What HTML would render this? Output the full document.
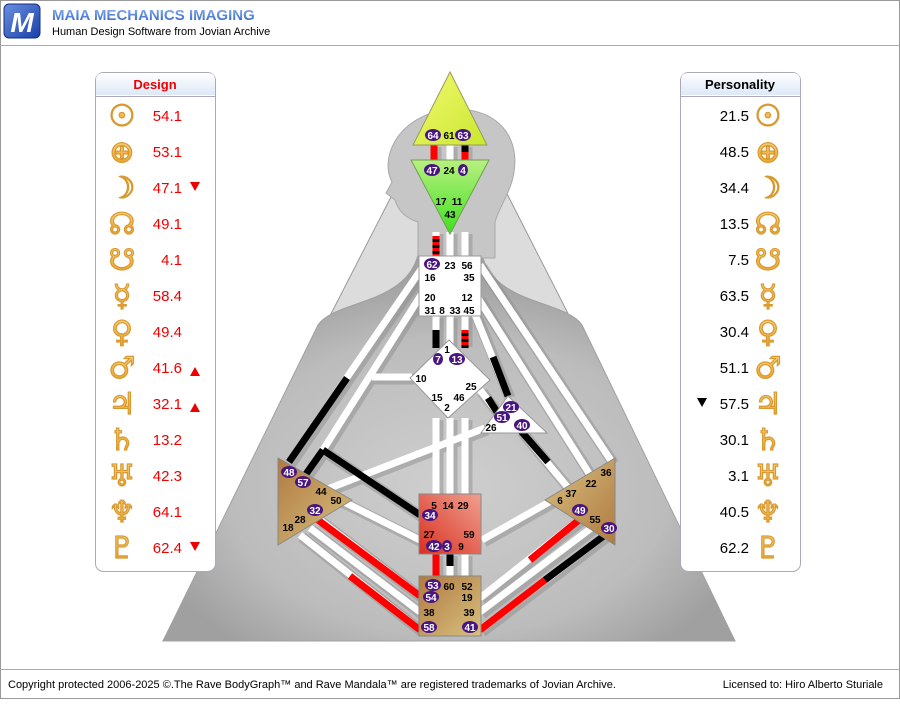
<!DOCTYPE html>
<html><head><meta charset="utf-8"><style>
body{margin:0;width:900px;height:699px;overflow:hidden;background:#fff;font-family:"Liberation Sans",sans-serif}
</style></head><body>
<svg width="900" height="699" viewBox="0 0 900 699" xmlns="http://www.w3.org/2000/svg" font-family="Liberation Sans, sans-serif">
<defs>
<linearGradient id="logo" x1="0" y1="0" x2="1" y2="1"><stop offset="0" stop-color="#6a8fe0"/><stop offset="1" stop-color="#1a3fa8"/></linearGradient>
<linearGradient id="ttl" x1="0" y1="0" x2="0" y2="1"><stop offset="0" stop-color="#8fb4f0"/><stop offset="1" stop-color="#2a5cc8"/></linearGradient>
<linearGradient id="ph" x1="0" y1="0" x2="0" y2="1"><stop offset="0" stop-color="#fff"/><stop offset="1" stop-color="#dde8f8"/></linearGradient>
<radialGradient id="bodyc" cx="0.5" cy="0.6" r="0.55"><stop offset="0" stop-color="#cfcfcf"/><stop offset="0.7" stop-color="#bcbcbc"/><stop offset="1" stop-color="#a0a0a0"/></radialGradient>
<linearGradient id="head" x1="0" y1="0" x2="1" y2="1"><stop offset="0" stop-color="#f4f870"/><stop offset="1" stop-color="#c8e830"/></linearGradient>
<linearGradient id="ajna" x1="0" y1="0" x2="0" y2="1"><stop offset="0" stop-color="#b8f080"/><stop offset="1" stop-color="#40e020"/></linearGradient>
<linearGradient id="sac" x1="1" y1="0" x2="0" y2="1"><stop offset="0" stop-color="#f0a090"/><stop offset="1" stop-color="#d83020"/></linearGradient>
<linearGradient id="tan" x1="0" y1="0" x2="1" y2="1"><stop offset="0" stop-color="#b07a40"/><stop offset="1" stop-color="#d8c080"/></linearGradient>
<linearGradient id="tan2" x1="1" y1="1" x2="0" y2="0"><stop offset="0" stop-color="#b07a40"/><stop offset="1" stop-color="#d8c080"/></linearGradient>
<linearGradient id="gold" x1="0" y1="0" x2="0" y2="1"><stop offset="0" stop-color="#fbd888"/><stop offset="1" stop-color="#e8981c"/></linearGradient>
</defs>
<rect x="0.5" y="0.5" width="899" height="698" fill="#fff" stroke="#999"/>
<rect x="4" y="4" width="36" height="34" rx="5" fill="url(#logo)" stroke="#123080"/>
<text x="22" y="32" font-size="28" font-weight="bold" fill="#fff" text-anchor="middle" font-style="italic">M</text>
<text x="52" y="20" font-size="15" font-weight="bold" fill="url(#ttl)">MAIA MECHANICS IMAGING</text>
<text x="52" y="35" font-size="11" fill="#000">Human Design Software from Jovian Archive</text>
<line x1="0" y1="45.5" x2="900" y2="45.5" stroke="#aaa"/>
<line x1="0" y1="669.5" x2="900" y2="669.5" stroke="#aaa"/>
<text x="8" y="688" font-size="11" fill="#000">Copyright protected 2006-2025 ©.The Rave BodyGraph™ and Rave Mandala™ are registered trademarks of Jovian Archive.</text>
<text x="883" y="688" font-size="11" fill="#000" text-anchor="end">Licensed to: Hiro Alberto Sturiale</text>

<!-- body -->
<polygon points="163,641 735,641 450,82" fill="#dcdcdc" stroke="#999"/>
<path d="M 163,641 L 318,325 C 335,300 405,305 418,255 L 482,255 C 495,305 565,300 582,325 L 735,641 Z" fill="url(#bodyc)" stroke="#a0a0a0"/>
<path d="M 418,258 L 418,222 C 405,218 398,210 395,200 L 386,193 L 392,182 C 380,160 395,118 445,110 C 495,104 520,135 514,172 C 511,192 500,205 495,222 L 495,258 Z" fill="#c6c6c6" stroke="#a8a8a8"/>

<g stroke-linecap="butt" fill="none">
<g stroke="#8a8a8a" stroke-width="11" opacity="0.45" transform="translate(2,2)">
<path id="ch" d="M434,145V160M450,145V160M465,145V160M436,232V256M450,232V256M465,232V256M436,316V345M450,316V345M465,316V345M436,418V494M450,418V494M465,418V494M436,554V576M450,554V576M465,554V576 M422,268L289,462M421,295L323,450M412,377L372,377M323,450L306,474M323,450L420,515M325,490L485,428M340,500L420,540M480,265L612,462M478,298L592,478M474,312L508,396M480,390L497,412M520,430L570,490M482,540L558,497M300,535L420,630M310,528L420,612M320,520L420,596M480,630L605,535M480,612L598,523M480,598L585,515"/>
</g>
<g stroke="#fff" stroke-width="7">
<path d="M434,145V160M450,145V160M465,145V160M436,232V256M450,232V256M465,232V256M436,316V345M450,316V345M465,316V345M436,418V494M450,418V494M465,418V494M436,554V576M450,554V576M465,554V576 M422,268L289,462M421,295L323,450M412,377L372,377M323,450L306,474M323,450L420,515M325,490L485,428M340,500L420,540M480,265L612,462M478,298L592,478M474,312L508,396M480,390L497,412M520,430L570,490M482,540L558,497M300,535L420,630M310,528L420,612M320,520L420,596M480,630L605,535M480,612L598,523M480,598L585,515"/>
</g>
<g stroke-width="7">
<path d="M434,145V160" stroke="#f00"/>
<path d="M465,145V152" stroke="#000"/><path d="M465,152V160" stroke="#f00"/>
<path d="M436,236V256" stroke="#f00"/><path d="M436,239V256" stroke="#000" stroke-dasharray="3,3"/>
<path d="M436,330V348" stroke="#000"/>
<path d="M465,330V348" stroke="#f00"/><path d="M465,333V348" stroke="#000" stroke-dasharray="3,3"/>
<path d="M347,378L289,462" stroke="#000"/>
<path d="M323,450L306,474M323,450L420,515" stroke="#000"/>
<path d="M493,357L508,396" stroke="#000"/>
<path d="M488,398L497,412" stroke="#000"/>
<path d="M520,430L548,462" stroke="#000"/>
<path d="M318,520L420,596" stroke="#f00"/>
<path d="M350,576L420,630" stroke="#f00"/>
<path d="M436,554V576" stroke="#f00"/>
<path d="M450,554V566" stroke="#000"/>
<path d="M480,630L545,580" stroke="#f00"/><path d="M545,580L605,535" stroke="#000"/>
<path d="M530,560L585,515" stroke="#f00"/>
</g>
</g>

<polygon points="450,72 413,145 487,145" fill="url(#head)" stroke="#9a9a60"/>
<polygon points="411,160 489,160 450,234" fill="url(#ajna)" stroke="#70a050"/>
<rect x="419" y="256" width="62" height="60" fill="#fff" stroke="#999"/>
<polygon points="449,340 490,380 448,418 410,378" fill="#fff" stroke="#999"/>
<polygon points="508,396 547,433 481,433" fill="#fff" stroke="#999"/>
<rect x="419" y="494" width="62" height="60" fill="url(#sac)" stroke="#888"/>
<rect x="419" y="576" width="62" height="60" fill="url(#tan)" stroke="#888"/>
<polygon points="278,458 352,500 278,545" fill="url(#tan)" stroke="#888"/>
<polygon points="615,458 545,500 615,545" fill="url(#tan2)" stroke="#888"/>

<g font-size="10" font-weight="bold" text-anchor="middle" fill="#000">
<text x="449" y="139">61</text><text x="449" y="174">24</text>
<text x="441" y="205">17</text><text x="457" y="205">11</text><text x="450" y="218">43</text>
<text x="450" y="269">23</text><text x="467" y="269">56</text><text x="430" y="281">16</text><text x="469" y="281">35</text>
<text x="430" y="301">20</text><text x="467" y="301">12</text>
<text x="430" y="314">31</text><text x="442" y="314">8</text><text x="455" y="314">33</text><text x="469" y="314">45</text>
<text x="447" y="353">1</text><text x="421" y="382">10</text><text x="471" y="390">25</text>
<text x="437" y="401">15</text><text x="459" y="401">46</text><text x="447" y="411">2</text>
<text x="491" y="431">26</text>
<text x="321" y="495">44</text><text x="336" y="504">50</text><text x="300" y="523">28</text><text x="288" y="531">18</text>
<text x="606" y="476">36</text><text x="591" y="487">22</text><text x="571" y="497">37</text><text x="560" y="504">6</text><text x="595" y="523">55</text>
<text x="434" y="509">5</text><text x="448" y="509">14</text><text x="463" y="509">29</text>
<text x="429" y="538">27</text><text x="469" y="538">59</text><text x="461" y="550">9</text>
<text x="449" y="590">60</text><text x="467" y="590">52</text><text x="467" y="601">19</text>
<text x="429" y="616">38</text><text x="469" y="616">39</text>
</g>
<g font-size="10" font-weight="bold" text-anchor="middle">
<g fill="#4a1580">
<ellipse cx="433" cy="135" rx="8" ry="6"/><ellipse cx="463" cy="135" rx="8" ry="6"/>
<ellipse cx="432" cy="170" rx="8" ry="6"/><ellipse cx="463" cy="170" rx="5" ry="6"/>
<ellipse cx="432" cy="264" rx="8" ry="6"/>
<ellipse cx="438" cy="359" rx="5" ry="6"/><ellipse cx="457" cy="359" rx="8" ry="6"/>
<ellipse cx="511" cy="407" rx="8" ry="6"/><ellipse cx="502" cy="417" rx="8" ry="6"/><ellipse cx="522" cy="425" rx="8" ry="6"/>
<ellipse cx="289" cy="472" rx="8" ry="6"/><ellipse cx="303" cy="482" rx="8" ry="6"/><ellipse cx="315" cy="510" rx="8" ry="6"/>
<ellipse cx="580" cy="510" rx="8" ry="6"/><ellipse cx="609" cy="528" rx="8" ry="6"/>
<ellipse cx="430" cy="515" rx="8" ry="6"/><ellipse cx="434" cy="546" rx="8" ry="6"/><ellipse cx="447" cy="546" rx="5" ry="6"/>
<ellipse cx="433" cy="585" rx="8" ry="6"/><ellipse cx="431" cy="597" rx="8" ry="6"/>
<ellipse cx="429" cy="627" rx="8" ry="6"/><ellipse cx="470" cy="627" rx="8" ry="6"/>
</g>
<g fill="#fff">
<text x="433" y="139">64</text><text x="463" y="139">63</text><text x="432" y="174">47</text><text x="463" y="174">4</text>
<text x="432" y="268">62</text><text x="438" y="363">7</text><text x="457" y="363">13</text>
<text x="511" y="411">21</text><text x="502" y="421">51</text><text x="522" y="429">40</text>
<text x="289" y="476">48</text><text x="303" y="486">57</text><text x="315" y="514">32</text>
<text x="580" y="514">49</text><text x="609" y="532">30</text>
<text x="430" y="519">34</text><text x="434" y="550">42</text><text x="447" y="550">3</text>
<text x="433" y="589">53</text><text x="431" y="601">54</text><text x="429" y="631">58</text><text x="470" y="631">41</text>
</g>
</g>

<rect x="95.5" y="72.5" width="120" height="499" rx="8" fill="#fff" stroke="#aab"/>
<path d="M96,95 V80 Q96,73 103,73 H208 Q215,73 215,80 V95 Z" fill="url(#ph)"/>
<line x1="96" y1="96.5" x2="215" y2="96.5" stroke="#aab"/>
<text x="155" y="89" font-size="13" font-weight="bold" fill="#e00" text-anchor="middle">Design</text>
<rect x="680.5" y="72.5" width="120" height="499" rx="8" fill="#fff" stroke="#aab"/>
<path d="M681,95 V80 Q681,73 688,73 H793 Q800,73 800,80 V95 Z" fill="url(#ph)"/>
<line x1="681" y1="96.5" x2="800" y2="96.5" stroke="#aab"/>
<text x="740" y="89" font-size="13" font-weight="bold" fill="#000" text-anchor="middle">Personality</text>

<g font-family="DejaVu Sans, sans-serif" font-size="30" font-weight="bold" fill="url(#gold)" stroke="#d89a30" stroke-width="1.2" text-anchor="middle">
<text x="122" y="126">☉</text><text x="122" y="162">⊕</text><text x="122" y="198">☽</text><text x="122" y="234">☊</text><text x="122" y="270">☋</text><text x="122" y="306">☿</text><text x="122" y="342">♀</text><text x="122" y="378">♂</text><text x="122" y="414">♃</text><text x="122" y="450">♄</text><text x="122" y="486">♅</text><text x="122" y="522">♆</text><text x="122" y="558">♇</text>
<text x="768" y="126">☉</text><text x="768" y="162">⊕</text><text x="768" y="198">☽</text><text x="768" y="234">☊</text><text x="768" y="270">☋</text><text x="768" y="306">☿</text><text x="768" y="342">♀</text><text x="768" y="378">♂</text><text x="768" y="414">♃</text><text x="768" y="450">♄</text><text x="768" y="486">♅</text><text x="768" y="522">♆</text><text x="768" y="558">♇</text>
</g>
<g font-size="15" fill="#e00" text-anchor="end">
<text x="182" y="121">54.1</text><text x="182" y="157">53.1</text><text x="182" y="193">47.1</text><text x="182" y="229">49.1</text><text x="182" y="265">4.1</text><text x="182" y="301">58.4</text><text x="182" y="337">49.4</text><text x="182" y="373">41.6</text><text x="182" y="409">32.1</text><text x="182" y="445">13.2</text><text x="182" y="481">42.3</text><text x="182" y="517">64.1</text><text x="182" y="553">62.4</text>
</g>
<g fill="#e00">
<polygon points="190,182 200,182 195,191"/><polygon points="190,376 200,376 195,367"/><polygon points="190,412 200,412 195,403"/><polygon points="190,542 200,542 195,551"/>
</g>
<g font-size="15" fill="#000" text-anchor="end">
<text x="749" y="121">21.5</text><text x="749" y="157">48.5</text><text x="749" y="193">34.4</text><text x="749" y="229">13.5</text><text x="749" y="265">7.5</text><text x="749" y="301">63.5</text><text x="749" y="337">30.4</text><text x="749" y="373">51.1</text><text x="749" y="409">57.5</text><text x="749" y="445">30.1</text><text x="749" y="481">3.1</text><text x="749" y="517">40.5</text><text x="749" y="553">62.2</text>
</g>
<polygon points="697,398 707,398 702,407" fill="#000"/>
</svg>
</body></html>
